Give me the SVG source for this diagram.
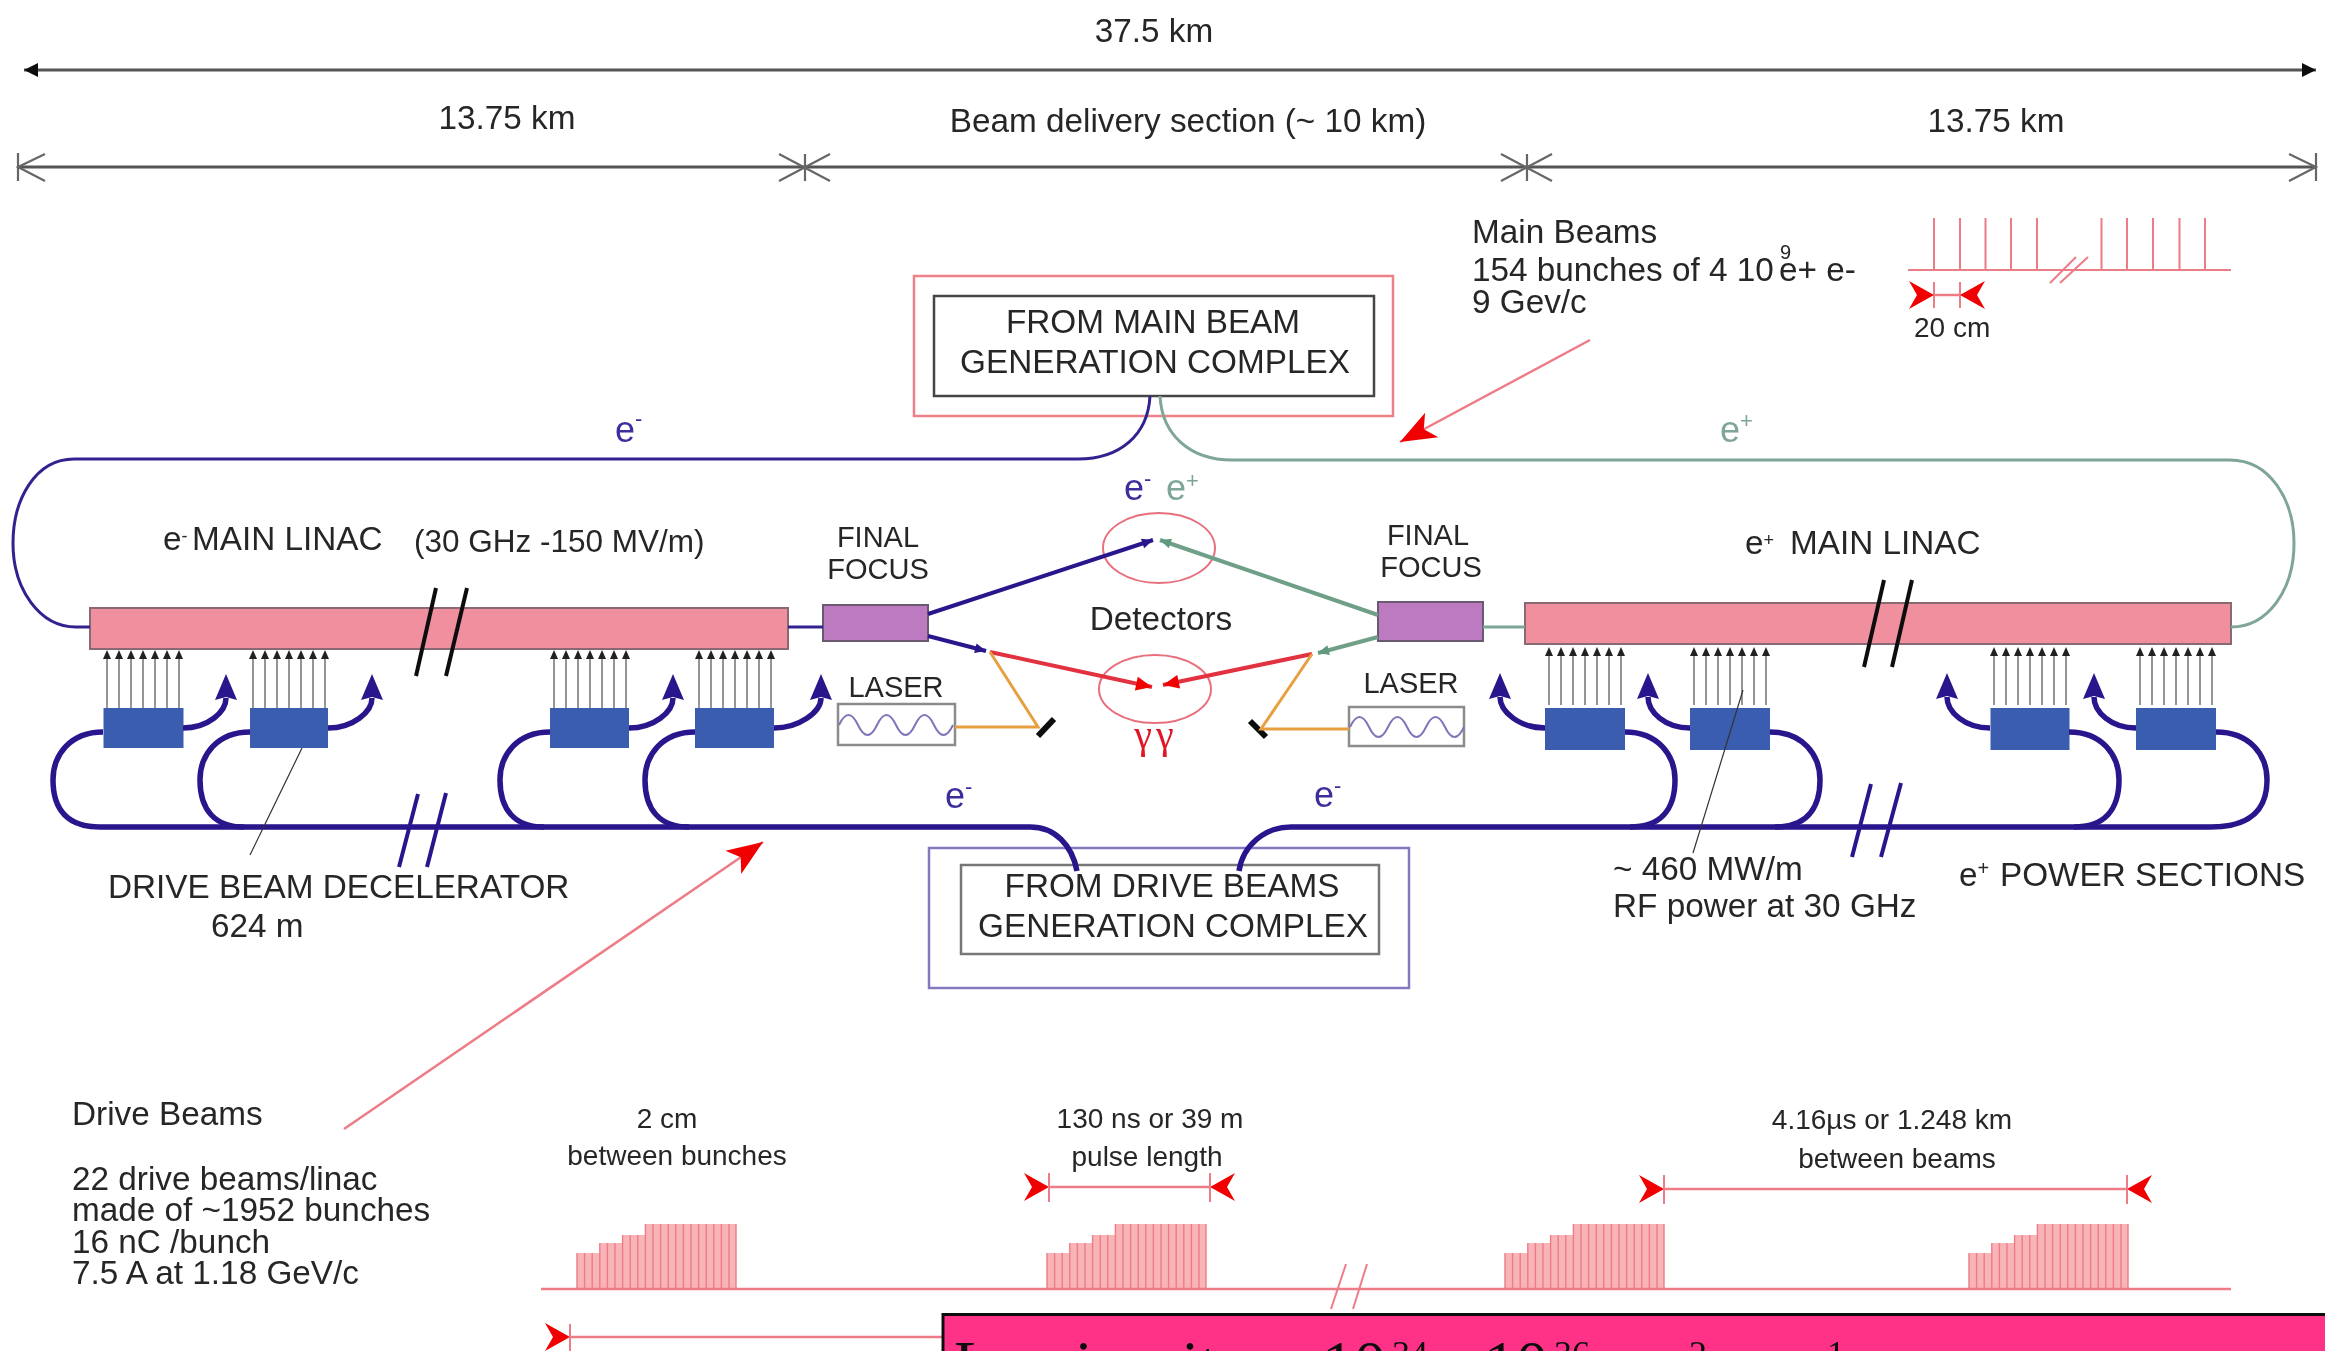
<svg xmlns="http://www.w3.org/2000/svg" xmlns:xlink="http://www.w3.org/1999/xlink" width="2325" height="1351" viewBox="0 0 2325 1351">
<style>
text{font-family:"Liberation Sans",Arial,sans-serif;fill:#262626;font-size:33.300px}
svg>g{filter:url(#soft)}
.m{text-anchor:middle}
.s31{font-size:31.500px}
.s29{font-size:29px}
.s28{font-size:28px}
.pur{fill:#3d2f9e;font-size:36px}
.grn{fill:#7fa596;font-size:36px}
.gam{font-family:"Liberation Serif",serif;fill:#e01828;font-size:40px;letter-spacing:4px}
.lum{font-family:"Liberation Serif",serif;fill:#111;font-size:64px}
.lums{font-size:36px}
.dim{fill:none;stroke:#555;stroke-width:3}
.redt{fill:none;stroke:#ec7c86;stroke-width:2}
.redd{fill:none;stroke:#ee7c86;stroke-width:2.500}
.navy{fill:none;stroke:#2a168c;stroke-width:5.500}
.navyt{fill:none;stroke:#33228f;stroke-width:3}
.grnl{fill:none;stroke:#7fa596;stroke-width:3}
.org{fill:none;stroke:#e6a040;stroke-width:3}
.lead{fill:none;stroke:#333;stroke-width:1.200}
.brk{fill:none;stroke:#111;stroke-width:4}
.brkn{fill:none;stroke:#2a168c;stroke-width:4}
.linac{fill:#f0909f;stroke:#8a6a72;stroke-width:2}
.ff{fill:#bc7ac0;stroke:#6a5a70;stroke-width:2}
.kly{fill:#3a5db0}
.laser{fill:#fff;stroke:#8c8c8c;stroke-width:2.500}
.wave{fill:none;stroke:#7f74b8;stroke-width:2}
.mir{stroke:#111;stroke-width:6;fill:none}
.ell{fill:none;stroke:#e8707c;stroke-width:2}
</style>
<defs>
<filter id="soft" filterUnits="userSpaceOnUse" x="0" y="0" width="2325" height="1351"><feGaussianBlur stdDeviation="0.600"/></filter>
<marker id="barbS" markerUnits="userSpaceOnUse" markerWidth="26" markerHeight="30" refX="25" refY="14" orient="auto" overflow="visible"><path d="M0 0L25 14L0 28L8 14Z" fill="#f00000"/></marker>
<marker id="barbE" markerUnits="userSpaceOnUse" markerWidth="26" markerHeight="30" refX="0" refY="14" orient="auto" overflow="visible"><path d="M25 0L0 14L25 28L17 14Z" fill="#f00000"/></marker>
<marker id="barbL" markerUnits="userSpaceOnUse" markerWidth="38" markerHeight="30" refX="36" refY="14" orient="auto" overflow="visible"><path d="M0 0L36 14L0 28L9 14Z" fill="#f00000"/></marker>
<marker id="redTip" markerUnits="userSpaceOnUse" markerWidth="18" markerHeight="14" refX="16" refY="7" orient="auto" overflow="visible"><path d="M0 0L16 7L0 14Z" fill="#f00000"/></marker>
<marker id="purTip" markerUnits="userSpaceOnUse" markerWidth="12" markerHeight="10" refX="11" refY="5" orient="auto" overflow="visible"><path d="M0 0L11 5L0 10Z" fill="#2a168c"/></marker>
<marker id="grnTip" markerUnits="userSpaceOnUse" markerWidth="12" markerHeight="10" refX="11" refY="5" orient="auto" overflow="visible"><path d="M0 0L11 5L0 10Z" fill="#5f9a80"/></marker>
<marker id="blk" markerUnits="userSpaceOnUse" markerWidth="16" markerHeight="16" refX="14" refY="7" orient="auto-start-reverse" overflow="visible"><path d="M0 0L14 7L0 14Z" fill="#111"/></marker>
<marker id="up" markerUnits="userSpaceOnUse" markerWidth="28" markerHeight="24" refX="2" refY="11" orient="auto" overflow="visible"><path d="M0 0L26 11L0 22L3 11Z" fill="#2a168c"/></marker>
<g id="rf">
<path d="M4 58V6M16 58V6M28 58V6M40 58V6M52 58V6M64 58V6M76 58V6" fill="none" stroke="#8a8a8a" stroke-width="1.800"/>
<path d="M0 9L4 0L8 9ZM12 9L16 0L20 9ZM24 9L28 0L32 9ZM36 9L40 0L44 9ZM48 9L52 0L56 9ZM60 9L64 0L68 9ZM72 9L76 0L80 9Z" fill="#222"/>
</g>
<g id="pulse">
<path d="M0 0V-36H23V-46H46V-54H68V-65H159V0Z" fill="#f8b4b6"/>
<path d="M0 0V-36M7.600 0V-36M15.200 0V-36M22.800 0V-46M30.400 0V-46M38 0V-46M45.600 0V-54M53.200 0V-54M60.800 0V-54M68.400 0V-65M76 0V-65M83.600 0V-65M91.200 0V-65M98.800 0V-65M106.400 0V-65M114 0V-65M121.600 0V-65M129.200 0V-65M136.800 0V-65M144.400 0V-65M152 0V-65M159 0V-65" fill="none" stroke="#ec7c86" stroke-width="1.400"/>
</g>
<path id="sine" d="M0 0q9.500 -20 19 0t19 0t19 0t19 0t19 0t19 0" class="wave"/>
</defs>

<rect width="2325" height="1351" fill="#fff"/>

<g id="dimension-labels">
<text x="1154" y="42" class="m">37.5 km</text>
<text x="507" y="129" class="m">13.75 km</text>
<text x="1188" y="132" class="m">Beam delivery section (~ 10 km)</text>
<text x="1996" y="132" class="m">13.75 km</text>
</g>

<g id="main-beam-source">
<rect x="914" y="276" width="479" height="140" fill="none" stroke="#ee8088" stroke-width="2.500"/>
<rect x="934" y="296" width="440" height="100" fill="none" stroke="#444" stroke-width="2.500"/>
<text x="1153" y="333" class="m">FROM MAIN BEAM</text>
<text x="1155" y="373" class="m">GENERATION COMPLEX</text>
</g>

<g id="main-beams-note">
<text x="1472" y="243">Main Beams</text>
<text x="1472" y="281">154 bunches of 4 10</text>
<text x="1780" y="259" style="font-size:20px">9</text>
<text x="1779" y="281">e+ e-</text>
<text x="1472" y="313">9 Gev/c</text>
</g>

<g id="main-pulse-train">
<path class="redt" d="M1908 270H2231M1934 218V270M1960 218V270M1985.500 218V270M2011 218V270M2037 218V270M2101.500 218V270M2127 218V270M2153 218V270M2179.500 218V270M2205 218V270M2088 257L2060 283M2076 257L2050 283"/>
<path class="redt" d="M1934 282V308M1960 282V308"/>
<text x="1914" y="337" class="s28">20 cm</text>
</g>

<g id="e-minus-main-label"><text x="615" y="442" class="pur">e<tspan dy="-16" style="font-size:22px">-</tspan></text></g>
<g id="e-plus-main-label"><text x="1720" y="442" class="grn">e<tspan dy="-14" style="font-size:22px">+</tspan></text></g>
<g id="ip-labels">
<text x="1124" y="500" class="pur">e<tspan dy="-14" style="font-size:22px">-</tspan></text>
<text x="1166" y="500" class="grn">e<tspan dy="-12" style="font-size:22px">+</tspan></text>
<text x="1161" y="630" class="m">Detectors</text>
<text x="1156" y="748" class="m gam">γγ</text>
</g>

<g id="detector-ee"><ellipse cx="1159" cy="548" rx="56" ry="35" class="ell"/></g>
<g id="detector-gg"><ellipse cx="1155" cy="689" rx="56" ry="34" class="ell"/></g>

<g id="e-main-linac">
<rect x="90" y="608" width="698" height="41" class="linac"/>
<text x="163" y="550">e<tspan dy="-8" style="font-size:18px">-</tspan></text>
<text x="192" y="550">MAIN LINAC</text>
<text x="414" y="552" class="s31">(30 GHz -150 MV/m)</text>
</g>
<g id="ep-main-linac">
<rect x="1525" y="603" width="706" height="41" class="linac"/>
<text x="1745" y="554">e<tspan dy="-8" style="font-size:18px">+</tspan></text>
<text x="1790" y="554">MAIN LINAC</text>
</g>

<g id="final-focus-left">
<rect x="823" y="605" width="105" height="36" class="ff"/>
<text x="878" y="547" class="m s29">FINAL</text>
<text x="878" y="579" class="m s29">FOCUS</text>
</g>
<g id="final-focus-right">
<rect x="1378" y="602" width="105" height="39" class="ff"/>
<text x="1428" y="545" class="m s29">FINAL</text>
<text x="1431" y="577" class="m s29">FOCUS</text>
</g>

<g id="laser-left">
<rect x="838" y="704" width="117" height="41" class="laser"/>
<use xlink:href="#sine" href="#sine" x="839" y="725"/>
<text x="896" y="697" class="m s29">LASER</text>
</g>
<g id="laser-right">
<rect x="1349" y="707" width="115" height="39" class="laser"/>
<use xlink:href="#sine" href="#sine" x="1350" y="727"/>
<text x="1411" y="693" class="m s29">LASER</text>
</g>
<g id="mirror-left"><path class="mir" d="M1038 736L1054 719"/></g>
<g id="mirror-right"><path class="mir" d="M1250 721L1266 737"/></g>

<g id="decel-1"><use xlink:href="#rf" href="#rf" x="103" y="650"/><rect x="103.500" y="708" width="80" height="40" class="kly"/></g>
<g id="decel-2"><use xlink:href="#rf" href="#rf" x="249" y="650"/><rect x="250" y="708" width="78" height="40" class="kly"/></g>
<g id="decel-3"><use xlink:href="#rf" href="#rf" x="550" y="650"/><rect x="550" y="708" width="79" height="40" class="kly"/></g>
<g id="decel-4"><use xlink:href="#rf" href="#rf" x="695" y="650"/><rect x="695" y="708" width="79" height="40" class="kly"/></g>
<g id="decel-5"><use xlink:href="#rf" href="#rf" x="1545" y="647"/><rect x="1545" y="708" width="80" height="42" class="kly"/></g>
<g id="decel-6"><use xlink:href="#rf" href="#rf" x="1690" y="647"/><rect x="1690" y="708" width="80" height="42" class="kly"/></g>
<g id="decel-7"><use xlink:href="#rf" href="#rf" x="1990" y="647"/><rect x="1990.500" y="708" width="79" height="42" class="kly"/></g>
<g id="decel-8"><use xlink:href="#rf" href="#rf" x="2136" y="647"/><rect x="2136" y="708" width="80" height="42" class="kly"/></g>

<g id="drive-beam-source">
<rect x="929" y="848" width="480" height="140" fill="none" stroke="#8478c0" stroke-width="2.500"/>
<rect x="961" y="865" width="418" height="89" fill="none" stroke="#777" stroke-width="2.500"/>
<text x="1172" y="897" class="m">FROM DRIVE BEAMS</text>
<text x="1173" y="937" class="m">GENERATION COMPLEX</text>
</g>

<g id="annotations">
<text x="108" y="898">DRIVE BEAM DECELERATOR</text>
<text x="211" y="937">624 m</text>
<text x="1613" y="880">~ 460 MW/m</text>
<text x="1613" y="917">RF power at 30 GHz</text>
<text x="1959" y="886">e<tspan dy="-11" style="font-size:20px">+</tspan></text>
<text x="2000" y="886">POWER SECTIONS</text>
<text x="945" y="808" class="pur">e<tspan dy="-14" style="font-size:22px">-</tspan></text>
<text x="1314" y="807" class="pur">e<tspan dy="-14" style="font-size:22px">-</tspan></text>
</g>

<g id="drive-beams-note">
<text x="72" y="1125">Drive Beams</text>
<text x="72" y="1190">22 drive beams/linac</text>
<text x="72" y="1221">made of ~1952 bunches</text>
<text x="72" y="1253">16 nC /bunch</text>
<text x="72" y="1284">7.5 A at 1.18 GeV/c</text>
</g>

<g id="drive-pulse-train">
<use xlink:href="#pulse" href="#pulse" x="577" y="1289"/>
<use xlink:href="#pulse" href="#pulse" x="1047" y="1289"/>
<use xlink:href="#pulse" href="#pulse" x="1505" y="1289"/>
<use xlink:href="#pulse" href="#pulse" x="1969" y="1289"/>
<path class="redd" d="M541 1289H2231"/>
<path class="redt" d="M1367 1264L1353 1309M1346 1264L1331 1309"/>
<text x="667" y="1128" class="m s28">2 cm</text>
<text x="677" y="1165" class="m s28">between bunches</text>
<text x="1150" y="1128" class="m s28">130 ns or 39 m</text>
<text x="1147" y="1166" class="m s28">pulse length</text>
<text x="1892" y="1129" class="m s28">4.16µs or 1.248 km</text>
<text x="1897" y="1168" class="m s28">between beams</text>
</g>

<g id="connectors">
<path class="dim" d="M24 70H2316" marker-start="url(#blk)" marker-end="url(#blk)"/>
<path class="dim" d="M18 167H2316"/>
<path fill="none" stroke="#666" stroke-width="2.200" d="M18 153V181M45 154L18 167L45 181M805 154V181M779 154L830 181M779 181L830 154M1527 154V181M1501 154L1552 181M1501 181L1552 154M2316 153V181M2289 154L2316 167L2289 181"/>

<path class="navyt" d="M1150 396C1148 435 1120 459 1078 459H74C35 459 13 500 13 543C13 590 40 627 76 627H90"/>
<path class="grnl" d="M1160 396C1162 435 1190 460 1232 460H2230C2270 460 2294 500 2294 543C2294 590 2268 627 2231 627"/>
<path class="navyt" d="M788 627H823"/>
<path class="grnl" d="M1483 627H1525"/>

<path d="M928 614L1153 540" fill="none" stroke="#2a168c" stroke-width="4" marker-end="url(#purTip)"/>
<path d="M928 636L986 651" fill="none" stroke="#2a168c" stroke-width="4" marker-end="url(#purTip)"/>
<path d="M1378 615L1160 540" fill="none" stroke="#6f9f88" stroke-width="4" marker-end="url(#grnTip)"/>
<path d="M1378 637L1318 653" fill="none" stroke="#6f9f88" stroke-width="4" marker-end="url(#grnTip)"/>
<path d="M990 652L1152 687" fill="none" stroke="#e23040" stroke-width="4" marker-end="url(#redTip)"/>
<path d="M1312 654L1163 685" fill="none" stroke="#e23040" stroke-width="4" marker-end="url(#redTip)"/>
<path class="org" d="M990 652L1038 727H955M1312 654L1261 729H1349"/>

<path class="navy" d="M100 827H1030C1055 827 1072 845 1077 871"/>
<path class="navy" d="M2210 827H1291C1265 827 1243 845 1239 871"/>
<path class="navy" d="M103 732C70 732 53 755 53 780C53 810 68 827 100 827"/>
<path class="navy" d="M250 732C217 732 200 755 200 780C200 810 215 827 244 827"/>
<path class="navy" d="M550 732C517 732 500 755 500 780C500 810 515 827 544 827"/>
<path class="navy" d="M695 732C662 732 645 755 645 780C645 810 660 827 689 827"/>
<path class="navy" d="M1625 732C1658 732 1675 755 1675 780C1675 810 1660 827 1630 827"/>
<path class="navy" d="M1770 732C1803 732 1820 755 1820 780C1820 810 1805 827 1775 827"/>
<path class="navy" d="M2069 732C2102 732 2119 755 2119 780C2119 810 2104 827 2074 827"/>
<path class="navy" d="M2216 732C2250 732 2267 755 2267 780C2267 810 2250 827 2210 827"/>

<path class="navy" d="M183 728C208 728 226 712 226 698" marker-end="url(#up)"/>
<path class="navy" d="M328 728C353 728 372 712 372 698" marker-end="url(#up)"/>
<path class="navy" d="M629 728C654 728 673 712 673 698" marker-end="url(#up)"/>
<path class="navy" d="M774 728C799 728 821 712 821 698" marker-end="url(#up)"/>
<path class="navy" d="M1545 728C1520 728 1500 712 1500 697" marker-end="url(#up)"/>
<path class="navy" d="M1690 728C1665 728 1648 712 1648 697" marker-end="url(#up)"/>
<path class="navy" d="M1990 728C1965 728 1947 712 1947 697" marker-end="url(#up)"/>
<path class="navy" d="M2136 728C2111 728 2094 712 2094 697" marker-end="url(#up)"/>

<path class="brk" d="M436 588L416 676M467 588L446 676M1884 580L1864 667M1912 580L1892 667"/>
<path class="brkn" d="M418 794L399 867M446 793L427 867M1871 784L1852 857M1901 783L1881 857"/>

<path class="lead" d="M302 748L250 855M1743 690L1693 853"/>

<path class="redd" d="M1590 340L1400 442" marker-end="url(#barbL)"/>
<path class="redd" d="M344 1129L763 842" marker-end="url(#barbL)"/>
<path class="redd" d="M1934 295H1960" marker-start="url(#barbS)" marker-end="url(#barbE)"/>
<path class="redd" d="M1049 1187H1210" marker-start="url(#barbS)" marker-end="url(#barbE)"/>
<path class="redt" d="M1049 1173V1202M1210 1173V1202"/>
<path class="redd" d="M1664 1189H2127" marker-start="url(#barbS)" marker-end="url(#barbE)"/>
<path class="redt" d="M1664 1175V1204M2127 1175V1204"/>
<path class="redd" d="M570 1337H945" marker-start="url(#barbS)"/>
<path class="redt" d="M570 1324V1351"/>
</g>

<g id="luminosity-box">
<rect x="943" y="1314.500" width="1400" height="60" fill="#ff3388" stroke="#111" stroke-width="3"/>
<text x="954" y="1385" class="lum">Luminosity ~</text>
<text x="1322" y="1385" class="lum">10</text>
<text x="1392" y="1366" class="lum lums">34</text>
<text x="1442" y="1385" class="lum">-</text>
<text x="1484" y="1385" class="lum">10</text>
<text x="1554" y="1366" class="lum lums">36</text>
<text x="1600" y="1385" class="lum">cm</text>
<text x="1677" y="1366" class="lum lums">-2</text>
<text x="1740" y="1385" class="lum">s</text>
<text x="1815" y="1366" class="lum lums">-1</text>
</g>
</svg>
